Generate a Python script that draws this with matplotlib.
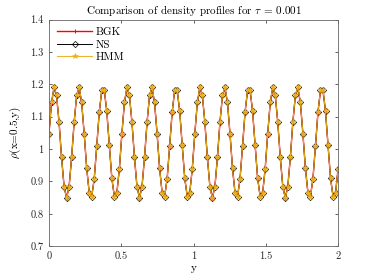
import matplotlib
matplotlib.use('Agg')
import matplotlib.pyplot as plt
import numpy as np
from matplotlib.ticker import FormatStrFormatter

plt.rcParams['font.family'] = ['cmr10', 'DejaVu Serif']
plt.rcParams['mathtext.fontset'] = 'cm'
plt.rcParams['axes.formatter.use_mathtext'] = True

# ---- data ----
y = np.linspace(0, 2, 116)

rho_ns = [1.048, 1.145, 1.191, 1.168, 1.084, 0.974, 0.883, 0.848, 0.883, 0.974,
          1.083, 1.167, 1.191, 1.145, 1.048, 0.940, 0.864, 0.852, 0.908, 1.010,
          1.116, 1.183, 1.183, 1.117, 1.011, 0.909, 0.852, 0.864, 0.939,
          1.048, 1.145, 1.191, 1.168, 1.084, 0.974, 0.883, 0.848, 0.883, 0.974,
          1.083, 1.167, 1.191, 1.145, 1.048, 0.940, 0.864, 0.852, 0.908, 1.010,
          1.116, 1.183, 1.183, 1.117, 1.011, 0.909, 0.852, 0.864, 0.939,
          1.048, 1.145, 1.191, 1.168, 1.084, 0.974, 0.883, 0.848, 0.883, 0.974,
          1.083, 1.167, 1.191, 1.145, 1.048, 0.940, 0.864, 0.852, 0.908, 1.010,
          1.116, 1.183, 1.183, 1.117, 1.011, 0.909, 0.852, 0.864, 0.939,
          1.048, 1.145, 1.191, 1.168, 1.084, 0.974, 0.883, 0.848, 0.883, 0.974,
          1.083, 1.167, 1.191, 1.145, 1.048, 0.940, 0.864, 0.852, 0.908, 1.010,
          1.116, 1.183, 1.183, 1.117, 1.011, 0.909, 0.852, 0.864, 0.939]

rho_bgk = [1.047, 1.142, 1.188, 1.165, 1.082, 0.974, 0.885, 0.850, 0.885, 0.974,
           1.082, 1.164, 1.188, 1.142, 1.047, 0.941, 0.866, 0.854, 0.909, 1.010,
           1.114, 1.180, 1.180, 1.115, 1.011, 0.910, 0.854, 0.866, 0.940,
           1.047, 1.142, 1.188, 1.165, 1.082, 0.974, 0.885, 0.850, 0.885, 0.974,
           1.082, 1.164, 1.188, 1.142, 1.047, 0.941, 0.866, 0.854, 0.909, 1.010,
           1.114, 1.180, 1.180, 1.115, 1.011, 0.910, 0.854, 0.866, 0.940,
           1.047, 1.142, 1.188, 1.165, 1.082, 0.974, 0.885, 0.850, 0.885, 0.974,
           1.082, 1.164, 1.188, 1.142, 1.047, 0.941, 0.866, 0.854, 0.909, 1.010,
           1.114, 1.180, 1.180, 1.115, 1.011, 0.910, 0.854, 0.866, 0.940,
           1.047, 1.142, 1.188, 1.165, 1.082, 0.974, 0.885, 0.850, 0.885, 0.974,
           1.082, 1.164, 1.188, 1.142, 1.047, 0.941, 0.866, 0.854, 0.909, 1.010,
           1.114, 1.180, 1.180, 1.115, 1.011, 0.910, 0.854, 0.866, 0.940]

rho_hmm = list(rho_ns)

x_ticks = [0, 0.5, 1, 1.5, 2]
y_ticks = [0.7, 0.8, 0.9, 1.0, 1.1, 1.2, 1.3, 1.4]

# ---- figure ----
fig = plt.figure(figsize=(3.74, 2.80), dpi=100)
ax = fig.add_axes([0.131, 0.121, 0.773, 0.809])

ax.plot(y, rho_bgk, color='#FF0000', lw=1.0, marker='+', ms=3.5, mew=0.7, label='BGK')
ax.plot(y, rho_ns, color='black', lw=0.7, marker='D', ms=3.2, mew=0.5,
        mfc='none', label='NS')
ax.plot(y, rho_hmm, color='#EDB120', lw=0.8, marker='*', ms=4.2, mew=0.4,
        alpha=0.95, label='HMM')

ax.set_xlim(0, 2)
ax.set_ylim(0.7, 1.4)
ax.set_xticks(x_ticks)
ax.set_yticks(y_ticks)
ax.xaxis.set_major_formatter(FormatStrFormatter('%g'))
ax.yaxis.set_major_formatter(FormatStrFormatter('%g'))
ax.tick_params(direction='in', length=2.5, width=0.5, labelsize=7.5,
               top=True, right=True, colors='#262626', pad=4)
for sp in ax.spines.values():
    sp.set_linewidth(0.6)
    sp.set_color('#666666')

ax.set_xlabel('y', fontsize=8, labelpad=2)
ax.set_ylabel(r'$\rho$(x=0.5,y)', fontsize=8, labelpad=5)
ax.set_title(r'Comparison of density profiles for $\tau$ = 0.001', fontsize=8, pad=4)

leg = ax.legend(loc='upper left', fontsize=8, frameon=False, handlelength=3.2,
                borderaxespad=0.3, labelspacing=0.25, handletextpad=0.3)

fig.savefig('out.png', dpi=100)
